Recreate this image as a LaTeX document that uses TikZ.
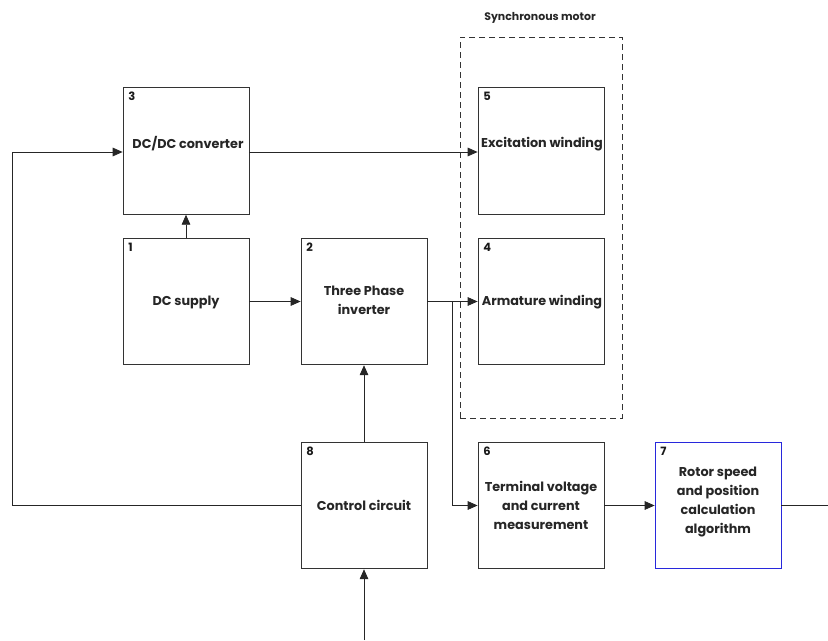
\documentclass[tikz,border=0pt]{standalone}
\usepackage{fontspec}
\setmainfont{Poppins}
\usetikzlibrary{arrows.meta}
\begin{document}
\begin{tikzpicture}[x=0.75pt,y=-0.75pt,
  blk/.style={draw=black!80, line width=0.6pt, minimum width=94.5pt, minimum height=95pt, inner sep=0pt, fill=white},
  lbl/.style={font=\fontsize{9.6}{14.2}\selectfont\bfseries, align=center, text=black!85},
  num/.style={font=\fontsize{8.6}{9}\selectfont\bfseries, anchor=north west, inner sep=0pt, text=black!90},
  con/.style={draw=black!85, line width=0.6pt},
  arr/.style={con, -{Triangle[length=7.5pt,width=6.5pt]}}]
\useasboundingbox (0,0) rectangle (828,640);
% dashed motor frame
\node[draw=black!80, dashed, dash pattern=on 4.5pt off 3pt, line width=0.6pt, minimum width=121.5pt, minimum height=285.75pt, inner sep=0pt] (motor) at (541,227.5) {};
\node[font=\fontsize{8.2}{9}\selectfont\bfseries, text=black!85] (motorlbl) at (540,18) {Synchronous motor};
% blocks
\node[blk] (b3) at (186,151) {};
\node[blk] (b1) at (186,301.5) {};
\node[blk] (b2) at (364,301.5) {};
\node[blk] (b5) at (541,151) {};
\node[blk] (b4) at (541,301.5) {};
\node[blk] (b8) at (364,505.5) {};
\node[blk] (b6) at (541,505.5) {};
\node[blk, draw={rgb,255:red,40;green,40;blue,220}] (b7) at (718,505.5) {};
% numbers
\node[num] (n3) at (128,92) {3};
\node[num] (n1) at (128,243) {1};
\node[num] (n2) at (306,243) {2};
\node[num] (n5) at (483,92) {5};
\node[num] (n4) at (483,243) {4};
\node[num] (n8) at (306,447) {8};
\node[num] (n6) at (483,447) {6};
\node[num] (n7) at (660,447) {7};
% labels
\node[lbl] (t3) at (188,144) {DC/DC converter};
\node[lbl] (t1) at (186,302) {DC supply};
\node[lbl] (t2) at (364,300) {Three Phase\\inverter};
\node[lbl] (t5) at (542,144) {Excitation winding};
\node[lbl] (t4) at (542,302) {Armature winding};
\node[lbl] (t8) at (364,505) {Control circuit};
\node[lbl] (t6) at (541,505) {Terminal voltage\\and current\\measurement};
\node[lbl] (t7) at (718,502) {Rotor speed\\and position\\calculation\\algorithm};
% connectors
\coordinate (br) at (452,301.5);
\coordinate (lft) at (12,505.5);
\coordinate (lft2) at (12,152);
\coordinate (outr) at (828,505.5);
\coordinate (inb) at (364,640);
\draw[arr] (b1.north) -- (b3.south);
\draw[arr] (b1.east) -- (b2.west);
\draw[arr] (b3.east |- 0,152) -- (b5.west |- 0,152);
\draw[arr] (b2.east) -- (b4.west);
\draw[arr] (br) -- (br |- b6.west) -- (b6.west);
\draw[arr] (b8.north) -- (b2.south);
\draw[arr] (b8.west) -- (lft) -- (lft2) -- (b3.west |- lft2);
\draw[arr] (b6.east) -- (b7.west);
\draw[con] (b7.east) -- (outr);
\draw[arr] (inb) -- (b8.south);
\end{tikzpicture}
\end{document}
